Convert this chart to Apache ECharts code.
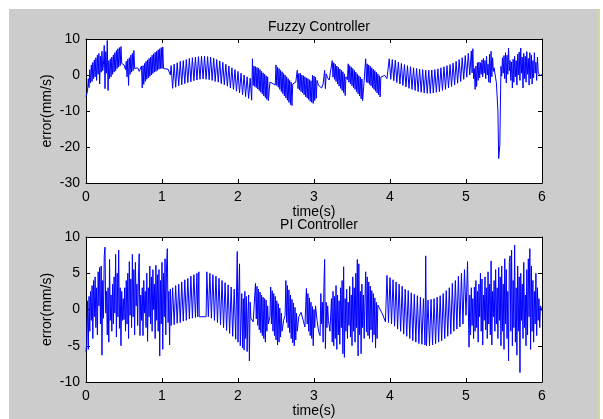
<!DOCTYPE html>
<html>
<head>
<meta charset="utf-8">
<script src="https://cdn.jsdelivr.net/npm/echarts@6.0.0/dist/echarts.min.js"></script>
<style>
  html, body { margin: 0; padding: 0; background: #ffffff; }
  #frame { position: absolute; left: 9px; top: 9px; width: 589px; height: 410px; background: #cccccc; }
  #edge { position: absolute; left: 598px; top: 9px; width: 2px; height: 410px; background: #d8d6a6; }
  #chart { position: absolute; left: 0; top: 0; width: 603px; height: 419px; }
</style>
</head>
<body>
<div id="frame"></div>
<div id="edge"></div>
<div id="chart"></div>
<script>
// Speed error of the fuzzy controller, [time (s), error (mm/s)]
const fuzzyErr = [
  [0,-6.0],[0.02,-4.5],[0.03,-1.0],[0.04,-3.5],[0.05,1.5],[0.06,-2.2],[0.07,2.8],[0.08,-1.8],[0.09,3.5],[0.10,-1.0],
  [0.11,4.2],[0.12,-0.5],[0.13,4.8],[0.14,-1.5],[0.15,5.5],[0.16,0.2],[0.17,6.0],[0.18,-2.5],[0.19,5.2],[0.20,0.8],
  [0.21,6.6],[0.22,1.2],[0.23,3.0],[0.24,8.2],[0.25,-3.8],[0.26,6.5],[0.27,0.5],[0.28,9.6],[0.29,-4.3],[0.30,4.0],
  [0.31,-1.0],[0.32,4.5],[0.33,-0.5],[0.34,5.0],[0.35,0.2],[0.36,5.6],[0.37,0.8],[0.38,6.2],[0.39,1.2],[0.40,6.8],
  [0.41,1.8],[0.42,7.3],[0.43,2.2],[0.44,7.6],[0.45,2.6],[0.46,7.9],[0.47,3.2],[0.48,3.0],[0.50,2.8],[0.52,1.5],
  [0.53,3.8],[0.54,-0.5],[0.55,4.4],[0.56,-2.9],[0.57,4.8],[0.58,0.2],[0.59,5.5],[0.60,0.8],[0.61,6.0],[0.62,1.2],
  [0.63,6.8],[0.64,1.8],[0.65,2.2],[0.68,2.0],[0.70,1.0],[0.72,0.5],[0.73,2.5],[0.74,-3.6],[0.75,2.6],[0.76,-2.6],
  [0.77,3.2],[0.78,-1.8],[0.79,3.8],[0.80,-1.2],[0.81,4.2],[0.82,-0.8],[0.83,4.6],[0.84,-0.4],[0.85,5.0],[0.86,0.0],
  [0.87,5.5],[0.88,0.4],[0.89,5.9],[0.90,0.8],[0.91,6.3],[0.92,1.0],[0.93,6.6],[0.94,1.3],[0.95,7.0],[0.96,1.6],
  [0.97,7.3],[0.98,1.8],[0.99,7.6],[1.00,1.8],[1.01,7.8],[1.02,1.8],[1.04,1.7],[1.08,1.6],[1.11,0.0],
  [1.12,2.6],[1.14,-3.7],[1.16,3.0],[1.18,-3.4],[1.20,3.4],[1.22,-3.0],[1.24,3.8],[1.26,-2.7],[1.28,4.0],[1.30,-2.4],
  [1.32,4.3],[1.34,-2.1],[1.36,4.6],[1.38,-1.9],[1.40,4.8],[1.42,-1.6],[1.44,5.0],[1.46,-1.4],[1.48,5.1],[1.50,-1.2],
  [1.52,5.2],[1.54,-1.1],[1.56,5.2],[1.58,-1.2],[1.60,5.1],[1.62,-1.3],[1.64,5.0],[1.66,-1.5],[1.68,4.7],[1.70,-1.8],
  [1.72,4.3],[1.74,-2.0],[1.76,3.9],[1.78,-2.4],[1.80,3.5],[1.82,-2.7],[1.84,3.0],[1.86,-3.1],[1.88,2.5],[1.90,-3.6],
  [1.92,2.0],[1.94,-4.0],[1.96,1.5],[1.98,-4.5],[2.00,1.0],[2.02,-5.0],[2.04,0.5],[2.06,-5.5],[2.08,0.0],[2.10,-6.0],
  [2.12,-0.5],[2.14,-6.5],[2.16,-0.9],[2.18,-7.0],
  [2.19,4.5],[2.20,-2.9],[2.21,2.5],[2.22,-3.2],[2.23,2.3],[2.24,-3.5],[2.25,2.1],[2.26,-3.9],[2.27,1.9],[2.28,-4.3],
  [2.29,1.5],[2.30,-4.8],[2.31,1.0],[2.32,-5.3],[2.33,0.6],[2.34,-5.8],[2.35,0.2],[2.36,-6.3],[2.37,-0.2],[2.38,-6.8],
  [2.39,-0.5],[2.40,-7.1],[2.42,-2.0],[2.46,-2.4],[2.49,-2.8],[2.50,2.8],[2.51,-2.9],[2.52,2.2],[2.53,-3.4],[2.54,1.8],
  [2.55,-4.0],[2.56,1.3],[2.57,-4.6],[2.58,0.9],[2.59,-5.2],[2.60,0.4],[2.61,-5.8],[2.62,0.0],[2.63,-6.4],[2.64,-0.5],
  [2.65,-7.0],[2.66,-1.0],[2.67,-7.6],[2.68,-1.5],[2.69,-8.2],[2.70,-2.0],[2.71,-8.5],[2.72,-2.5],[2.74,-2.2],[2.76,-2.0],
  [2.78,1.3],[2.79,-3.8],[2.80,0.4],[2.81,-4.2],[2.82,0.5],[2.83,-4.6],[2.84,0.0],[2.85,-5.0],[2.86,-0.2],[2.87,-5.5],
  [2.88,-0.5],[2.89,-6.0],[2.90,-0.8],[2.91,-6.4],[2.92,-1.0],[2.93,-6.8],[2.94,-1.3],[2.95,-7.3],[2.96,-1.6],[2.97,-7.6],
  [2.98,-0.1],[2.99,-7.9],[3.00,-0.3],[3.01,-7.1],[3.02,-0.6],[3.03,-6.5],[3.04,-1.5],[3.06,-2.9],[3.08,-2.4],[3.10,-3.6],
  [3.12,-2.5],[3.14,1.3],[3.15,-3.8],[3.16,0.3],[3.18,-0.8],[3.20,-1.4],[3.22,-1.9],[3.24,4.0],[3.25,-0.6],[3.26,3.4],
  [3.27,-1.2],[3.28,3.0],[3.29,-1.8],[3.30,2.5],[3.31,-2.5],[3.32,2.1],[3.33,-3.1],[3.34,1.7],[3.35,-3.7],[3.36,1.3],
  [3.37,-4.3],[3.38,0.9],[3.39,-4.9],[3.40,0.3],[3.41,-5.7],[3.42,-0.5],[3.44,-1.3],[3.45,3.1],[3.46,-2.0],[3.47,2.6],
  [3.48,-2.5],[3.49,2.2],[3.50,-3.0],[3.51,1.8],[3.52,-3.5],[3.53,1.3],[3.54,-4.0],[3.55,0.8],[3.56,-4.6],[3.57,0.3],
  [3.58,-5.2],[3.59,-0.2],[3.60,-5.8],[3.61,-0.6],[3.62,-6.6],[3.63,-1.1],[3.64,-7.1],[3.66,-1.5],[3.68,4.5],[3.69,-2.0],
  [3.70,3.1],[3.71,-2.2],[3.72,2.8],[3.73,-2.6],[3.74,2.4],[3.75,-3.0],[3.76,2.0],[3.77,-3.5],[3.78,1.6],[3.79,-4.0],
  [3.80,1.2],[3.81,-4.5],[3.82,0.8],[3.83,-5.0],[3.84,0.3],[3.85,-5.5],[3.86,-0.2],[3.87,-6.1],[3.88,-0.6],[3.89,-1.1],
  [3.93,-0.1],[3.96,-1.0],[3.98,-1.5],
  [3.99,4.5],[4.01,-1.2],[4.03,4.3],[4.05,-1.6],[4.07,4.1],[4.09,-2.1],[4.11,3.6],[4.13,-2.5],[4.15,3.2],[4.17,-2.9],
  [4.19,2.9],[4.21,-3.3],[4.23,2.6],[4.25,-3.7],[4.27,2.3],[4.29,-4.0],[4.31,2.0],[4.33,-4.3],[4.35,1.8],[4.37,-4.6],
  [4.39,1.6],[4.41,-4.8],[4.43,1.5],[4.45,-5.0],[4.47,1.3],[4.49,-5.1],[4.51,1.3],[4.53,-5.1],[4.55,1.4],[4.57,-5.0],
  [4.59,1.5],[4.61,-4.8],[4.63,1.7],[4.65,-4.6],[4.67,2.0],[4.69,-4.3],[4.71,2.3],[4.73,-4.0],[4.75,2.6],[4.77,-3.6],
  [4.79,2.9],[4.81,-3.2],[4.83,3.3],[4.85,-2.8],[4.87,3.8],[4.89,-2.3],[4.91,4.3],[4.93,-1.8],[4.95,4.8],[4.97,-1.2],
  [4.99,5.4],[5.01,-0.6],[5.03,6.0],[5.05,0.0],[5.07,6.7],[5.08,0.6],[5.09,7.3],
  [5.10,-1.0],[5.11,1.8],[5.12,-4.0],[5.13,2.5],[5.14,-3.2],[5.15,3.4],[5.16,-1.5],[5.17,3.6],[5.18,-0.8],[5.19,3.4],
  [5.20,0.2],[5.21,4.2],[5.22,-0.5],[5.23,4.6],[5.24,0.5],[5.25,4.0],[5.26,-1.0],[5.27,5.2],[5.28,0.0],[5.29,3.0],
  [5.30,-2.0],[5.31,5.8],[5.32,-2.2],[5.33,6.6],[5.34,-0.5],[5.35,4.8],[5.36,1.0],[5.37,2.0],[5.39,1.7],[5.40,-2.2],
  [5.42,-10.0],[5.43,-23.2],[5.445,-19.5],[5.46,2.4],[5.47,-0.3],[5.48,4.8],[5.49,0.5],[5.50,5.4],[5.51,-1.0],[5.52,6.2],
  [5.53,-2.2],[5.54,5.5],[5.55,0.2],[5.56,7.5],[5.57,1.2],[5.58,4.0],[5.59,-1.5],[5.60,3.6],[5.61,-3.6],[5.62,4.4],
  [5.63,-2.0],[5.64,5.2],[5.65,-0.5],[5.66,4.0],[5.67,-2.8],[5.68,5.8],[5.69,0.0],[5.70,6.4],[5.71,-1.5],[5.72,7.5],
  [5.73,0.5],[5.74,5.0],[5.75,-3.6],[5.76,6.0],[5.77,-1.0],[5.78,5.2],[5.79,-2.0],[5.80,6.5],[5.81,0.2],[5.82,4.6],
  [5.83,-2.8],[5.84,6.2],[5.85,-1.0],[5.86,5.5],[5.87,-2.5],[5.88,4.0],[5.89,-0.8],[5.90,6.2],[5.91,0.5],[5.92,3.5],
  [5.93,-1.5],[5.94,5.0],[5.95,0.8],[5.97,-0.2],[6.00,0.1]
];

// Speed error of the PI controller, [time (s), error (mm/s)]
const piErr = [
  [0,-5.9],[0.01,-4.5],[0.02,1.2],[0.03,-5.5],[0.04,1.8],[0.05,-3.0],[0.06,2.5],[0.07,-1.5],[0.08,3.3],[0.09,-4.0],
  [0.10,4.0],[0.11,-1.0],[0.12,4.5],[0.13,-2.5],[0.14,3.0],[0.15,-3.5],[0.16,5.2],[0.17,0.5],[0.18,5.8],[0.19,-2.0],
  [0.20,6.0],[0.21,-6.3],[0.22,4.0],[0.23,-1.2],[0.24,7.4],[0.25,8.6],[0.26,-0.5],[0.27,2.5],[0.28,-3.5],[0.29,3.0],
  [0.30,-4.5],[0.31,6.9],[0.32,-1.5],[0.33,2.0],[0.34,-3.0],[0.35,3.5],[0.36,-2.0],[0.37,4.5],[0.38,-0.5],[0.39,7.6],
  [0.40,-3.8],[0.41,5.0],[0.42,-1.0],[0.43,8.2],[0.44,-2.6],[0.45,3.0],[0.46,-5.0],[0.47,2.5],[0.48,-1.5],[0.49,1.5],
  [0.50,-1.4],[0.51,3.0],[0.52,-3.0],[0.53,4.0],[0.54,-2.0],[0.55,5.0],[0.56,-4.0],[0.57,6.6],[0.58,-0.8],[0.59,4.2],
  [0.60,-2.5],[0.61,7.6],[0.62,-1.0],[0.63,5.5],[0.64,-3.5],[0.65,6.5],[0.66,0.5],[0.67,3.5],[0.68,-2.2],[0.69,4.5],
  [0.70,7.7],[0.71,-3.6],[0.72,2.0],[0.73,-1.5],[0.74,3.0],[0.75,-3.6],[0.76,4.0],[0.77,-0.5],[0.78,2.5],[0.79,-2.5],
  [0.80,5.0],[0.81,-4.4],[0.82,3.0],[0.83,-1.0],[0.84,6.0],[0.85,-2.0],[0.86,4.5],[0.87,-3.0],[0.88,5.5],[0.89,0.0],
  [0.90,3.5],[0.91,-4.0],[0.92,6.1],[0.93,-1.5],[0.94,4.8],[0.95,-3.0],[0.96,5.5],[0.97,-6.4],[0.98,4.0],[0.99,-2.0],
  [1.00,6.5],[1.01,-5.5],[1.02,5.0],[1.03,-1.0],[1.04,7.0],[1.05,-3.5],[1.06,6.0],[1.07,8.4],[1.08,-1.8],[1.09,2.5],
  [1.10,-4.9],[1.11,2.8],[1.12,-2.2],
  [1.14,3.0],[1.16,-2.1],[1.18,3.3],[1.20,-1.9],[1.22,3.5],[1.24,-1.8],[1.26,3.8],[1.28,-1.6],[1.30,4.1],[1.32,-1.5],
  [1.34,4.3],[1.36,-1.3],[1.38,4.6],[1.40,-1.2],[1.42,4.8],[1.44,-1.1],[1.46,5.0],[1.47,-1.0],[1.485,5.2],[1.49,-1.0],
  [1.58,-1.0],[1.59,5.2],[1.61,-1.0],[1.63,5.0],[1.65,-1.2],[1.67,4.8],[1.69,-1.5],[1.71,4.6],[1.73,-1.8],[1.75,4.3],
  [1.77,-2.1],[1.79,4.0],[1.81,-2.5],[1.83,3.7],[1.85,-2.9],[1.87,3.4],[1.89,-3.3],[1.91,3.1],[1.93,-3.7],[1.95,2.8],
  [1.97,-4.1],[1.99,8.0],[2.00,-4.5],[2.01,2.5],[2.02,6.3],[2.03,-5.0],[2.05,2.2],[2.06,-5.3],
  [2.07,1.5],[2.08,-5.6],[2.09,2.5],[2.10,-4.0],[2.11,1.8],[2.12,-5.8],[2.13,-0.7],[2.14,2.0],[2.15,-7.1],[2.16,1.0],
  [2.17,-1.2],[2.20,-1.7],[2.22,-1.9],[2.23,3.6],[2.24,-1.3],[2.25,3.2],[2.26,-2.2],[2.27,2.8],[2.28,-2.8],[2.29,2.4],
  [2.30,-3.2],[2.31,2.0],[2.32,-3.6],[2.33,1.7],[2.34,-4.0],[2.35,1.5],[2.36,-4.5],[2.37,1.3],[2.38,-3.0],[2.39,0.5],
  [2.40,-2.0],[2.42,-1.0],[2.43,3.1],[2.44,-2.0],[2.45,2.6],[2.46,-3.0],[2.47,2.2],[2.48,-3.6],[2.49,1.8],[2.50,-4.2],
  [2.51,1.2],[2.52,-4.9],[2.53,0.8],[2.54,-4.5],[2.55,0.2],[2.56,-3.8],[2.57,-0.5],[2.58,-3.0],[2.60,-1.5],[2.62,-0.8],
  [2.63,4.0],[2.64,-1.8],[2.65,3.3],[2.66,-2.5],[2.67,2.7],[2.68,-3.2],[2.69,2.0],[2.70,-4.0],[2.71,1.4],[2.72,-4.6],
  [2.73,0.9],[2.74,-5.0],[2.75,0.3],[2.76,-4.2],[2.77,-0.5],[2.78,-3.0],[2.80,-1.0],[2.83,-0.4],[2.86,-1.6],[2.88,-2.4],
  [2.90,2.9],[2.91,-2.0],[2.92,2.2],[2.93,-3.0],[2.94,1.6],[2.95,-3.6],[2.96,1.0],[2.97,-4.0],[2.98,0.4],[2.99,-5.0],
  [3.00,0.0],[3.01,-2.5],[3.02,0.5],[3.04,-1.5],[3.06,-3.0],[3.08,-3.6],[3.09,2.2],[3.10,-2.0],[3.11,1.0],[3.12,-4.5],
  [3.13,3.0],[3.14,6.9],[3.15,-5.4],[3.16,1.0],[3.17,-2.5],[3.18,0.5],[3.19,-1.5],[3.21,-3.0],[3.23,1.5],[3.24,-4.5],
  [3.25,2.5],[3.26,-5.0],[3.27,1.8],[3.28,-4.0],[3.29,3.3],[3.30,-5.5],[3.31,2.0],[3.32,-3.5],[3.33,1.2],[3.34,-4.8],
  [3.35,3.0],[3.36,-2.5],[3.37,4.0],[3.38,-6.1],[3.39,5.9],[3.40,-6.6],[3.41,1.5],[3.42,-3.0],[3.43,2.8],[3.44,-4.0],
  [3.45,1.0],[3.46,-2.2],[3.47,3.2],[3.48,-3.8],[3.49,2.0],[3.50,-5.0],[3.51,4.5],[3.52,-3.0],[3.53,3.0],[3.54,-4.5],
  [3.55,5.0],[3.56,-2.5],[3.57,6.9],[3.58,-6.4],[3.59,6.3],[3.60,-3.5],[3.61,2.5],[3.62,-6.1],[3.63,3.5],[3.64,-2.5],
  [3.65,2.0],[3.66,-4.0],[3.67,1.0],[3.68,5.2],[3.69,-3.1],[3.70,4.5],[3.71,-3.6],[3.72,3.8],[3.73,-4.0],[3.74,3.2],
  [3.75,-2.8],[3.76,2.6],[3.77,-4.5],[3.78,2.2],[3.79,-3.5],[3.80,1.6],[3.81,-5.3],[3.82,1.0],[3.83,-4.0],[3.84,0.6],
  [3.86,0.5],[3.90,-0.6],[3.94,-1.7],
  [3.96,4.7],[3.98,-1.8],[4.00,4.4],[4.02,-2.0],[4.04,4.1],[4.06,-2.3],[4.08,3.8],[4.10,-2.7],[4.12,3.5],[4.14,-3.0],
  [4.16,3.2],[4.18,-3.4],[4.20,2.8],[4.22,-3.7],[4.24,2.6],[4.26,-4.0],[4.28,2.3],[4.30,-4.3],[4.32,2.1],[4.34,-4.5],
  [4.36,1.9],[4.38,-4.7],[4.40,1.7],[4.42,-4.8],[4.44,1.5],[4.46,-4.9],[4.47,7.4],[4.48,-5.0],[4.50,1.3],[4.52,-5.0],
  [4.54,1.4],[4.56,-4.9],[4.58,1.5],[4.60,-4.7],[4.62,1.7],[4.64,-4.5],[4.66,1.9],[4.68,-4.3],[4.70,2.2],[4.72,-4.0],
  [4.74,2.6],[4.76,-3.7],[4.78,3.0],[4.80,-3.4],[4.82,3.6],[4.84,-3.0],[4.86,4.0],[4.88,-2.7],[4.90,4.6],[4.92,-2.4],
  [4.94,5.0],[4.96,-2.0],[4.98,5.5],[5.00,-0.8],
  [5.02,6.6],[5.04,-5.2],[5.05,2.0],[5.06,-3.5],[5.07,3.0],[5.08,-2.2],[5.09,1.5],[5.10,-4.0],[5.11,3.1],[5.12,-3.0],
  [5.13,4.0],[5.14,-2.5],[5.15,2.5],[5.16,-4.5],[5.17,3.5],[5.18,-1.0],[5.19,5.0],[5.20,-3.0],[5.21,4.2],[5.22,-4.9],
  [5.23,2.0],[5.24,-1.5],[5.25,4.5],[5.26,-2.8],[5.27,3.0],[5.28,-4.0],[5.29,5.2],[5.30,-2.0],[5.31,3.5],[5.32,-3.5],
  [5.33,6.7],[5.34,-4.9],[5.35,2.5],[5.36,-1.0],[5.37,4.0],[5.38,-3.0],[5.39,5.5],[5.40,-2.0],[5.41,3.0],[5.42,-4.0],
  [5.43,5.8],[5.44,-1.5],[5.45,4.5],[5.46,-5.0],[5.47,6.0],[5.48,-3.0],[5.49,3.5],[5.50,-5.5],[5.51,7.0],[5.52,-2.0],
  [5.53,5.5],[5.54,-4.0],[5.55,2.5],[5.56,-7.1],[5.57,6.5],[5.58,7.4],[5.59,-3.0],[5.60,8.2],[5.61,-5.0],[5.62,4.0],
  [5.63,-2.5],[5.64,8.9],[5.65,-4.5],[5.66,3.0],[5.67,-6.3],[5.68,6.0],[5.69,-3.0],[5.70,4.5],[5.71,-8.7],[5.72,5.0],
  [5.73,-1.5],[5.74,3.5],[5.75,-4.0],[5.76,6.5],[5.77,-2.5],[5.78,2.0],[5.79,-5.0],[5.80,5.5],[5.81,-3.5],[5.82,7.0],
  [5.83,-1.0],[5.84,8.4],[5.85,-5.5],[5.86,6.0],[5.87,-3.0],[5.88,4.0],[5.89,-4.5],[5.90,2.5],[5.91,-2.0],[5.92,5.0],
  [5.93,-3.6],[5.94,3.0],[5.95,-1.5],[5.96,1.5],[5.97,-2.5],[5.98,0.5],[6.00,-0.2]
];

const panelTitles = ['Fuzzy Controller', 'PI Controller'];
const timeName = 'time(s)';
const errorName = 'error(mm/s)';
const yRanges = [[-30, 10, 10], [-10, 10, 5]];

const FONT = '"Liberation Sans", Arial, sans-serif';
const FONT_SIZE = 14;
const grids = [
  { left: 86, top: 39, width: 456, height: 144 },
  { left: 86, top: 237, width: 456, height: 145 }
];

function tickStyle() {
  return { show: true, inside: true, length: 4, lineStyle: { color: '#000', width: 1 } };
}
function lineStyle() {
  return { show: true, onZero: false, lineStyle: { color: '#000', width: 1 } };
}
function labelStyle(margin) {
  return { color: '#000', fontFamily: FONT, fontSize: FONT_SIZE, margin: margin };
}

const xAxes = [], yAxes = [];
grids.forEach(function (g, i) {
  // bottom axis with labels and name
  xAxes.push({
    type: 'value', gridIndex: i, min: 0, max: 6, interval: 1, position: 'bottom',
    name: timeName, nameLocation: 'middle', nameGap: 21,
    nameTextStyle: { color: '#000', fontFamily: FONT, fontSize: FONT_SIZE },
    axisLine: lineStyle(), axisTick: tickStyle(), splitLine: { show: false },
    axisLabel: labelStyle(7)
  });
  // top edge of the box: ticks only
  xAxes.push({
    type: 'value', gridIndex: i, min: 0, max: 6, interval: 1, position: 'top',
    axisLine: lineStyle(), axisTick: tickStyle(), splitLine: { show: false },
    axisLabel: { show: false }
  });
  yAxes.push({
    type: 'value', gridIndex: i, min: yRanges[i][0], max: yRanges[i][1], interval: yRanges[i][2],
    position: 'left',
    name: errorName, nameLocation: 'middle', nameGap: 32, nameRotate: 90, nameMoveOverlap: false,
    nameTextStyle: { color: '#000', fontFamily: FONT, fontSize: FONT_SIZE },
    axisLine: lineStyle(), axisTick: tickStyle(), splitLine: { show: false },
    axisLabel: labelStyle(6)
  });
  // right edge of the box: ticks only
  yAxes.push({
    type: 'value', gridIndex: i, min: yRanges[i][0], max: yRanges[i][1], interval: yRanges[i][2],
    position: 'right',
    axisLine: lineStyle(), axisTick: tickStyle(), splitLine: { show: false },
    axisLabel: { show: false }
  });
});

const chart = echarts.init(document.getElementById('chart'), null, { renderer: 'canvas' });
chart.setOption({
  animation: false,
  backgroundColor: 'transparent',
  title: panelTitles.map(function (t, i) {
    return {
      text: t, left: 314, top: i === 0 ? 15 : 213, textAlign: 'center',
      textStyle: { color: '#000', fontFamily: FONT, fontSize: FONT_SIZE, fontWeight: 'normal' }
    };
  }),
  grid: grids.map(function (g) {
    return Object.assign({ show: true, backgroundColor: '#ffffff', borderWidth: 0 }, g);
  }),
  xAxis: xAxes,
  yAxis: yAxes,
  series: [
    {
      type: 'line', xAxisIndex: 0, yAxisIndex: 0, data: fuzzyErr,
      symbol: 'none', lineStyle: { color: '#0000ff', width: 1 }, silent: true
    },
    {
      type: 'line', xAxisIndex: 2, yAxisIndex: 2, data: piErr,
      symbol: 'none', lineStyle: { color: '#0000ff', width: 1 }, silent: true
    }
  ]
});
</script>
</body>
</html>
